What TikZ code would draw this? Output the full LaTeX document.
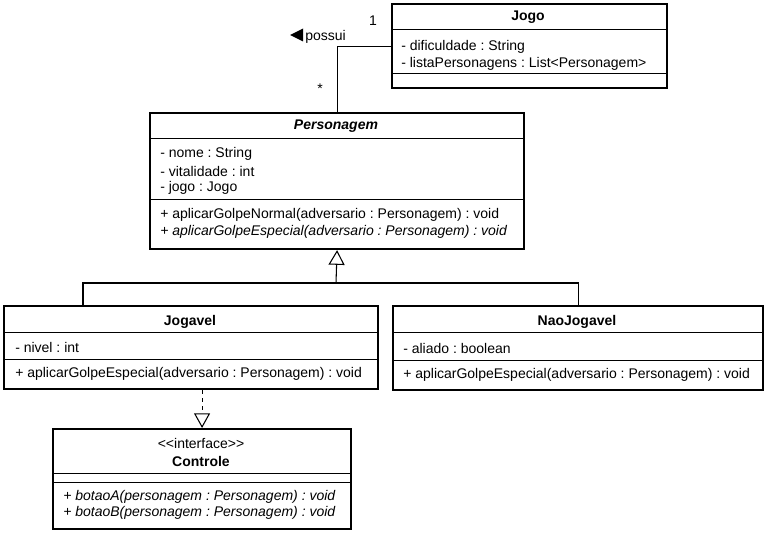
\documentclass[tikz,border=0pt]{standalone}
\usepackage{fontspec}
\setmainfont{Liberation Sans}
\usetikzlibrary{arrows.meta}
\newdimen\upx \upx=0.75pt
\frenchspacing

\tikzset{
  classbox/.style={draw, line width=1.6pt, fill=white, inner sep=0pt, anchor=north west},
  sepline/.style={line width=0.7pt},
  member/.style={anchor=west, inner sep=0pt, font=\fontsize{10.5}{12}\selectfont},
  title/.style={inner sep=0pt, font=\fontsize{10.5}{12}\selectfont\bfseries},
  link/.style={line width=0.8pt},
  extends/.style={link, -{Triangle[open, length=11pt, width=12pt]}},
}

\begin{document}
\begin{tikzpicture}[x=\upx, y=-\upx]
  \useasboundingbox (0,0) rectangle (768,535);

  % Jogo
  \node[classbox, minimum width=275\upx, minimum height=84\upx] (jogo) at (391,3) {};
  \draw[sepline] (391,29) -- (666,29);
  \draw[sepline] (391,73) -- (666,73);
  \node[title] (jogoT) at (528,17) {Jogo};
  \node[member] (jogoA1) at (401,47) {- dificuldade : String};
  \node[member] (jogoA2) at (401,64) {- listaPersonagens : List<Personagem>};

  % Personagem
  \node[classbox, minimum width=374\upx, minimum height=136\upx] (personagem) at (149,112) {};
  \draw[sepline] (149,138) -- (523,138);
  \draw[sepline] (149,199) -- (523,199);
  \node[title, font=\fontsize{10.5}{12}\selectfont\bfseries\itshape] (personagemT) at (336,126) {Personagem};
  \node[member] (personagemA1) at (160,154) {- nome : String};
  \node[member] (personagemA2) at (160,171) {- vitalidade : int};
  \node[member] (personagemA3) at (160,188) {- jogo : Jogo};
  \node[member] (personagemM1) at (160,215) {+ aplicarGolpeNormal(adversario : Personagem) : void};
  \node[member, font=\fontsize{10.5}{12}\selectfont\itshape] (personagemM2) at (160,232) {+ aplicarGolpeEspecial(adversario : Personagem) : void};

  % Jogavel
  \node[classbox, minimum width=374\upx, minimum height=83\upx] (jogavel) at (3,305) {};
  \draw[sepline] (3,332) -- (377,332);
  \draw[sepline] (3,359) -- (377,359);
  \node[title] (jogavelT) at (190,322) {Jogavel};
  \node[member] (jogavelA1) at (15,347) {- nivel : int};
  \node[member] (jogavelM1) at (15,374) {+ aplicarGolpeEspecial(adversario : Personagem) : void};

  % NaoJogavel
  \node[classbox, minimum width=370\upx, minimum height=84\upx] (naojogavel) at (392,305) {};
  \draw[sepline] (392,332) -- (762,332);
  \draw[sepline] (392,360) -- (762,360);
  \node[title] (naojogavelT) at (577,322) {NaoJogavel};
  \node[member] (naojogavelA1) at (403,348) {- aliado : boolean};
  \node[member] (naojogavelM1) at (403,375) {+ aplicarGolpeEspecial(adversario : Personagem) : void};

  % Controle
  \node[classbox, minimum width=298\upx, minimum height=100\upx] (controle) at (52,428) {};
  \draw[sepline] (52,473) -- (350,473);
  \draw[sepline] (52,482) -- (350,482);
  \node[member, anchor=center] (controleS) at (201,443) {<{}<interface>{}>};
  \node[title] (controleT) at (201,461) {Controle};
  \node[member, font=\fontsize{10.5}{12}\selectfont\itshape] (controleM1) at (63,497) {+ botaoA(personagem : Personagem) : void};
  \node[member, font=\fontsize{10.5}{12}\selectfont\itshape] (controleM2) at (63,513) {+ botaoB(personagem : Personagem) : void};

  % associacao
  \draw[link] (jogo.west) -| (personagem.north);
  \node[member, anchor=center] (multUm) at (373,21) {1};
  \node[member, anchor=center] (multMuitos) at (320,89) {*};
  \fill (290,35) -- (303,28.5) -- (303,41.5) -- cycle;
  \node[member] (possui) at (305,37) {possui};

  % heranca
  \coordinate (junction) at (336,283);
  \coordinate (legL) at (83,283);
  \coordinate (legR) at (naojogavel.north |- junction);
  \draw[extends] (junction) -- (personagem.south);
  \draw[link] (legL |- jogavel.north) -- (legL) -- (legR) -- (naojogavel.north);

  % realizacao
  \draw[extends, dashed] (controle.north |- jogavel.south) -- (controle.north);
\end{tikzpicture}
\end{document}
